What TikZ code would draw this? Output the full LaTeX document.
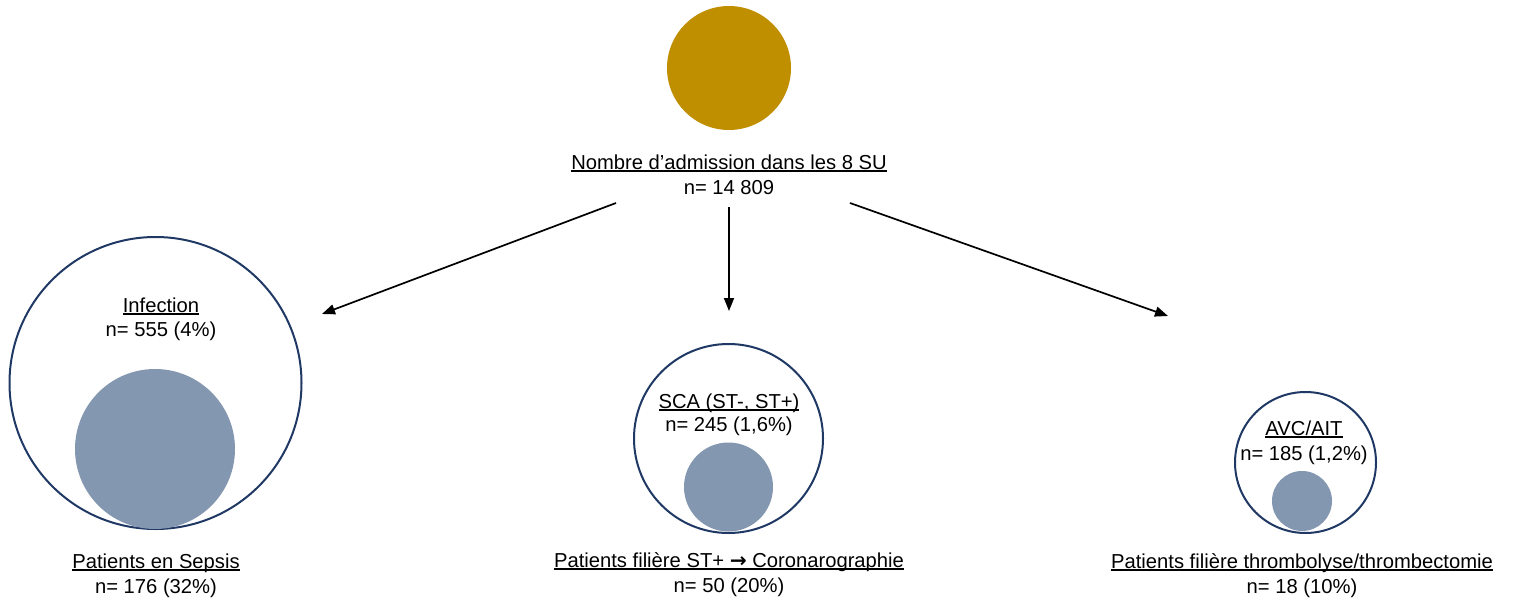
\documentclass[tikz,border=0pt]{standalone}
\usepackage{fontspec}
\setmainfont{Liberation Sans}
\newfontfamily\symfont{DejaVu Sans}
\usetikzlibrary{arrows.meta}
\definecolor{gold}{RGB}{191,143,0}
\definecolor{navy}{RGB}{31,56,100}
\definecolor{slate}{RGB}{132,151,176}
\newcommand\uln[1]{\setbox0\hbox{#1}\rlap{\rule[-2.6pt]{\wd0}{1.3pt}}\box0}
\begin{document}
\begin{tikzpicture}[x=1pt,y=-1pt,
  lbl/.style={font=\fontsize{20.2}{24}\selectfont, inner sep=0pt, anchor=base},
  outerc/.style={circle, draw=navy, line width=2pt, inner sep=0pt, minimum size=#1},
  innerc/.style={circle, fill=slate, inner sep=0pt, minimum size=#1},
  arr/.style={-{Triangle[length=13pt,width=10pt]}, line width=1.7pt}]
\useasboundingbox (0,0) rectangle (1516,602);

% top
\node[circle, fill=gold, inner sep=0pt, minimum size=124pt] (top) at (729,68) {};
\node[lbl] (t1) at (729,169) {\uln{Nombre d’admission dans les 8 SU}};
\node[lbl] (t2) at (729,194) {n= 14 809};

% arrows
\coordinate (a1s) at (616,203);
\coordinate (a1e) at (322,314);
\coordinate (a2s) at (729,207);
\coordinate (a2e) at (729,311);
\coordinate (a3s) at (850,203);
\coordinate (a3e) at (1168,316);
\draw[arr] (a1s) -- (a1e);
\draw[arr] (a2s) -- (a2e);
\draw[arr] (a3s) -- (a3e);

% left
\node[outerc=292pt] (inf) at (155.5,383) {};
\node[innerc=160pt] (sep) at (155,449) {};
\node[lbl] (i1) at (161,312) {\uln{Infection}};
\node[lbl] (i2) at (161,336) {n= 555 (4\%)};
\node[lbl] (s1) at (156,568) {\uln{Patients en Sepsis}};
\node[lbl] (s2) at (156,593) {n= 176 (32\%)};

% middle
\node[outerc=189pt] (sca) at (728.5,438.5) {};
\node[innerc=89pt] (cor) at (728.5,487) {};
\node[lbl] (c1) at (729,408) {\uln{SCA (ST-, ST+)}};
\node[lbl] (c2) at (729,431) {n= 245 (1,6\%)};
\node[lbl] (c3) at (729,567) {\uln{Patients filière ST+ {\symfont\bfseries →} Coronarographie}};
\node[lbl] (c4) at (729,592) {n= 50 (20\%)};

% right
\node[outerc=141pt] (avc) at (1305.5,462.5) {};
\node[innerc=60pt] (thr) at (1302,501) {};
\node[lbl] (v1) at (1304,435) {\uln{AVC/AIT}};
\node[lbl] (v2) at (1304,460) {n= 185 (1,2\%)};
\node[lbl] (v3) at (1302,568) {\uln{Patients filière thrombolyse/thrombectomie}};
\node[lbl] (v4) at (1302,593) {n= 18 (10\%)};
\end{tikzpicture}
\end{document}
